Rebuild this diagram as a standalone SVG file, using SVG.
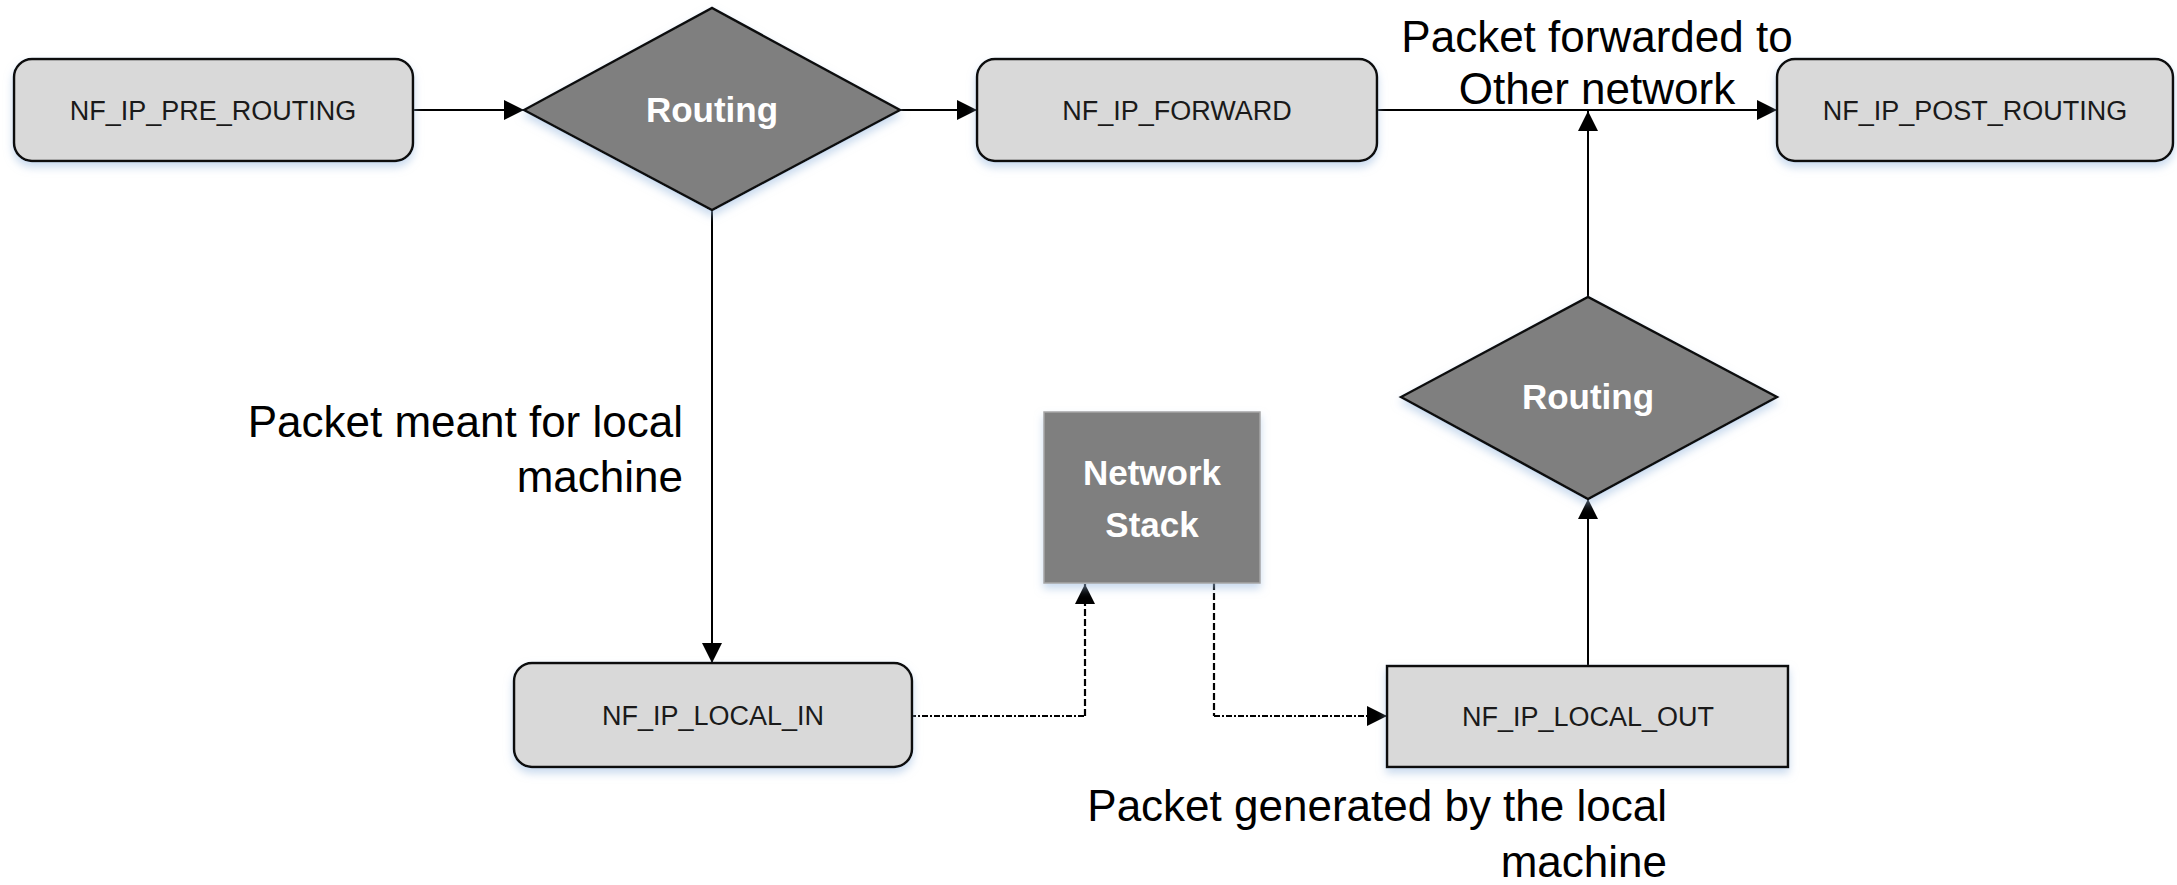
<svg xmlns="http://www.w3.org/2000/svg" width="2177" height="885" viewBox="0 0 2177 885">
<style>
.box{fill:#d9d9d9;stroke:#111;stroke-width:2.5}
.dia{fill:#7f7f7f;stroke:#111;stroke-width:2.5}
.stack{fill:#7f7f7f;stroke:#a6a6a6;stroke-width:1.5}
.nt{font-family:"Liberation Sans",Arial,sans-serif;font-size:27px;fill:#1a1a1a;text-anchor:middle}
.wt{font-family:"Liberation Sans",Arial,sans-serif;font-size:35px;font-weight:bold;fill:#fff;text-anchor:middle}
.lbl{font-family:"Liberation Sans",Arial,sans-serif;font-size:44px;fill:#000}
.ln{fill:none;stroke:#000;stroke-width:2}
.dd{fill:none;stroke:#000;stroke-width:2.2;stroke-dasharray:6 2 2 2}
.dv{fill:none;stroke:#000;stroke-width:2.2;stroke-dasharray:7 3}
</style>
<defs>
<marker id="ah" viewBox="0 0 20 20" refX="20" refY="10" markerWidth="20" markerHeight="20" markerUnits="userSpaceOnUse" orient="auto">
<path d="M0,0 L20,10 L0,20 z" fill="#000"/>
</marker>
<filter id="sh" x="-10%" y="-10%" width="120%" height="130%">
<feDropShadow dx="0" dy="5" stdDeviation="4" flood-color="#9dbbe0" flood-opacity="0.55"/>
</filter>
</defs>
<rect width="2177" height="885" fill="#fff"/>
<g id="connectors">
<line class="ln" x1="413" y1="110" x2="524" y2="110" marker-end="url(#ah)"/>
<line class="ln" x1="900" y1="110" x2="977" y2="110" marker-end="url(#ah)"/>
<line class="ln" x1="1377" y1="110" x2="1777" y2="110" marker-end="url(#ah)"/>
<line class="ln" x1="1588" y1="297" x2="1588" y2="111" marker-end="url(#ah)"/>
<line class="ln" x1="712" y1="210" x2="712" y2="663" marker-end="url(#ah)"/>
<line class="ln" x1="1588" y1="666" x2="1588" y2="499" marker-end="url(#ah)"/>
<path class="dd" d="M910,716 H1085"/>
<path class="dv" d="M1085,716 V584" marker-end="url(#ah)"/>
<path class="dv" d="M1214,583 V716"/>
<path class="dd" d="M1214,716 H1387" marker-end="url(#ah)"/>
<text class="lbl" x="1597" y="52" text-anchor="middle">Packet forwarded to</text>
<text class="lbl" x="1597" y="104" text-anchor="middle">Other network</text>
<text class="lbl" x="683" y="437" text-anchor="end">Packet meant for local</text>
<text class="lbl" x="683" y="492" text-anchor="end">machine</text>
<text class="lbl" x="1667" y="821" text-anchor="end">Packet generated by the local</text>
<text class="lbl" x="1667" y="877" text-anchor="end">machine</text>
</g>
<g id="pre_routing">
<rect class="box" x="14" y="59" width="399" height="102" rx="18" filter="url(#sh)"/>
<text class="nt" x="213" y="120">NF_IP_PRE_ROUTING</text>
</g>
<g id="routing1">
<polygon class="dia" points="524,110 712,8 900,110 712,210" filter="url(#sh)"/>
<text class="wt" x="712" y="122">Routing</text>
</g>
<g id="forward">
<rect class="box" x="977" y="59" width="400" height="102" rx="18" filter="url(#sh)"/>
<text class="nt" x="1177" y="120">NF_IP_FORWARD</text>
</g>
<g id="post_routing">
<rect class="box" x="1777" y="59" width="396" height="102" rx="18" filter="url(#sh)"/>
<text class="nt" x="1975" y="120">NF_IP_POST_ROUTING</text>
</g>
<g id="routing2">
<polygon class="dia" points="1401,397 1588,297 1777,397 1588,499" filter="url(#sh)"/>
<text class="wt" x="1588" y="409">Routing</text>
</g>
<g id="network_stack">
<rect class="stack" x="1044" y="412" width="216" height="171" filter="url(#sh)"/>
<text class="wt" x="1152" y="485">Network</text>
<text class="wt" x="1152" y="537">Stack</text>
</g>
<g id="local_in">
<rect class="box" x="514" y="663" width="398" height="104" rx="18" filter="url(#sh)"/>
<text class="nt" x="713" y="725">NF_IP_LOCAL_IN</text>
</g>
<g id="local_out">
<rect class="box" x="1387" y="666" width="401" height="101" filter="url(#sh)"/>
<text class="nt" x="1588" y="726">NF_IP_LOCAL_OUT</text>
</g>
</svg>
